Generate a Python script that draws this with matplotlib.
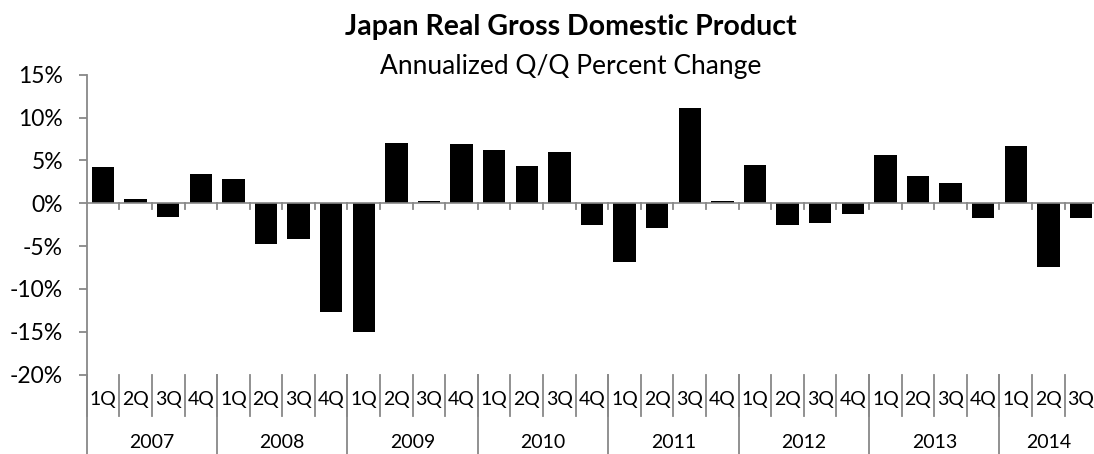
import matplotlib.pyplot as plt
import numpy as np

plt.rcParams['font.family'] = ['Lato', 'DejaVu Sans']

quarters = ["1Q", "2Q", "3Q", "4Q", "1Q", "2Q", "3Q", "4Q", "1Q", "2Q", "3Q", "4Q",
            "1Q", "2Q", "3Q", "4Q", "1Q", "2Q", "3Q", "4Q", "1Q", "2Q", "3Q", "4Q",
            "1Q", "2Q", "3Q", "4Q", "1Q", "2Q", "3Q"]
years = ["2007", "2008", "2009", "2010", "2011", "2012", "2013", "2014"]
quarters_per_year = [4, 4, 4, 4, 4, 4, 4, 3]
gdp_change = [4.2, 0.5, -1.6, 3.4, 2.8, -4.8, -4.2, -12.7, -15.0, 7.0, 0.3, 6.9,
              6.2, 4.3, 6.0, -2.5, -6.8, -2.9, 11.1, 0.3, 4.5, -2.5, -2.3, -1.3,
              5.6, 3.2, 2.4, -1.7, 6.7, -7.4, -1.7]
yticks = [15, 10, 5, 0, -5, -10, -15, -20]

W, H = 1094, 454
gray = "#888888"

fig = plt.figure(figsize=(W / 100, H / 100), dpi=100)
left, right, top, bottom = 86.7, 1097.3, 74.7, 374.7
ax = fig.add_axes([left / W, 1 - bottom / H, (right - left) / W, (bottom - top) / H])

x = np.arange(len(gdp_change))
ax.bar(x, gdp_change, width=0.69, color="black")
ax.set_xlim(-0.5, len(quarters) - 0.5)
ax.set_ylim(-20, 15)

for s in ["top", "right", "bottom"]:
    ax.spines[s].set_visible(False)
ax.spines["left"].set_color(gray)
ax.spines["left"].set_linewidth(1.3)
ax.axhline(0, color=gray, lw=1.2, zorder=3)

ax.set_yticks(yticks)
ax.set_yticklabels([f"{v}%" for v in yticks], fontsize=16.5)
ax.tick_params(axis="y", direction="out", length=6, width=1.3, color=gray, pad=11)
ax.set_xticks([])

# small ticks on the zero line between categories
for k in range(1, len(quarters) + 1):
    ax.plot([k - 0.5, k - 0.5], [0, -0.7], color=gray, lw=1.3, zorder=3, clip_on=False)

tr = ax.get_xaxis_transform()
h = bottom - top
for i, q in enumerate(quarters):
    ax.text(i, -(399 - bottom) / h, q, transform=tr, ha="center", va="center", fontsize=14)
for k in range(len(quarters)):
    ax.plot([k - 0.5, k - 0.5], [0, -(416 - bottom) / h], transform=tr, color=gray,
            lw=1.3, clip_on=False)

start = 0
for y, n in zip(years, quarters_per_year):
    ax.plot([start - 0.5, start - 0.5], [0, -(H - bottom) / h], transform=tr, color=gray,
            lw=1.3, clip_on=False)
    ax.text(start + (n - 1) / 2, -(443 - bottom) / h, y, transform=tr, ha="center",
            va="center", fontsize=14)
    start += n

fig.text(571 / W, 1 - 35 / H, "Japan Real Gross Domestic Product", ha="center",
         va="baseline", fontsize=20.5, fontweight="bold")
fig.text(571 / W, 1 - 74 / H, "Annualized Q/Q Percent Change", ha="center",
         va="baseline", fontsize=19)

fig.savefig("out.png", dpi=100)
